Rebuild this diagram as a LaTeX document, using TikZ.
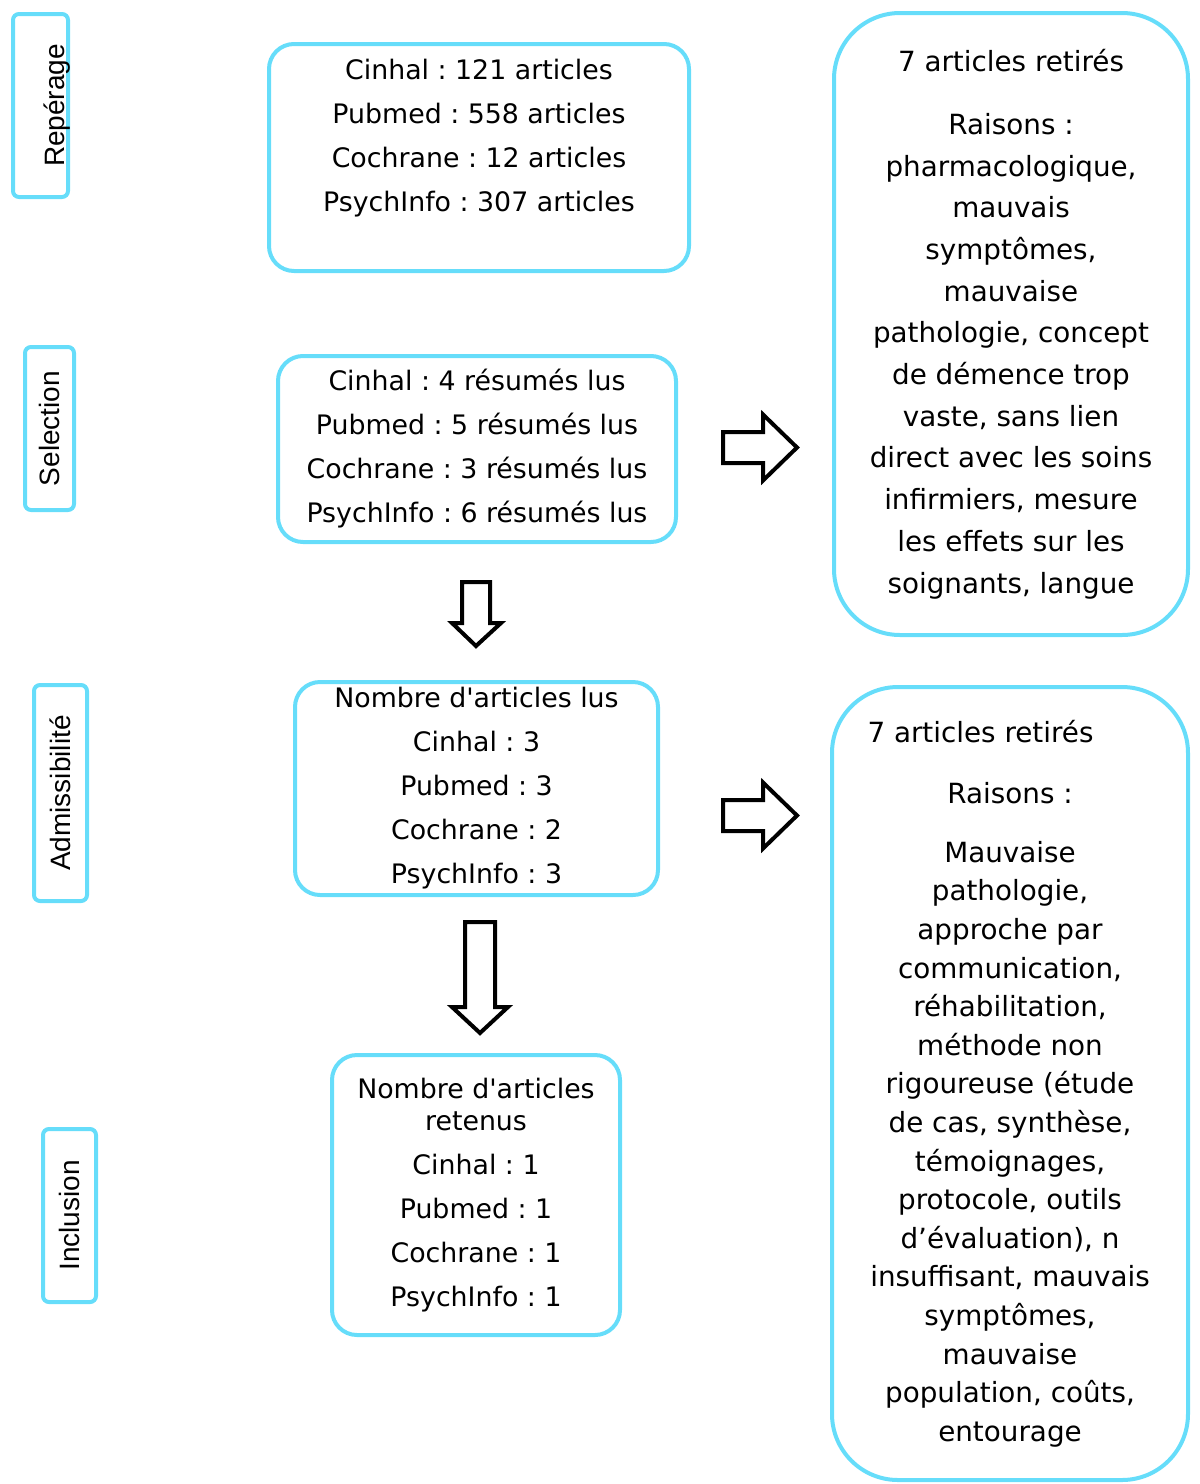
\documentclass[tikz,border=0pt]{standalone}
\usepackage{fontspec}
\setmainfont{DejaVu Sans}
\newfontfamily\sidefont{Liberation Sans}
\definecolor{boxcyan}{RGB}{102,221,250}
\frenchspacing

\begin{document}
\begin{tikzpicture}[x=0.5pt,y=-0.5pt,
	box/.style={draw=boxcyan, line width=2pt, rounded corners=12.5pt, align=center, inner sep=0pt,
		font=\fontsize{13.4}{22}\selectfont},
	bigbox/.style={box, rounded corners=33pt},
	sidebox/.style={draw=boxcyan, line width=2pt, rounded corners=3pt, rotate=90, inner sep=0pt,
		font=\sidefont\fontsize{14}{16}\selectfont},
	blockarrow/.style={draw=black, line width=2pt, fill=white}]
\useasboundingbox (0,0) rectangle (1200,1484);

\node[sidebox, minimum width=91.5pt, minimum height=27.5pt] (reperage) at (40.5,105.5)
	{\raisebox{-8.5pt}[\height][\depth]{Repérage}};
\node[sidebox, minimum width=81.5pt, minimum height=24.5pt] (selection) at (49.5,428.5) {Selection};
\node[sidebox, minimum width=108pt, minimum height=26.5pt] (admis) at (60.5,793) {Admissibilité};
\node[sidebox, minimum width=86.5pt, minimum height=26.5pt] (inclusion) at (69.5,1215.5) {Inclusion};

\node[box, minimum width=210pt, minimum height=113.5pt] (bases) at (479,157.5)
	{Cinhal : 121 articles\\ Pubmed : 558 articles\\ Cochrane : 12 articles\\ PsychInfo : 307 articles\\ \mbox{}};
\node[box, minimum width=199pt, minimum height=93pt] (resumes) at (477,449)
	{Cinhal : 4 résumés lus\\ Pubmed : 5 résumés lus\\ Cochrane : 3 résumés lus\\ PsychInfo : 6 résumés lus};
\node[box, minimum width=181.5pt, minimum height=106.5pt] (lus) at (476.5,788.5)
	{Nombre d\textquotesingle articles lus\\ Cinhal : 3\\ Pubmed : 3\\ Cochrane : 2\\ PsychInfo : 3};
\node[box, minimum width=144pt, minimum height=140pt, font=\fontsize{13.4}{16}\selectfont] (retenus) at (476,1195)
	{Nombre d\textquotesingle articles\\ retenus\\[6pt] Cinhal : 1\\[6pt] Pubmed : 1\\[6pt] Cochrane : 1\\[6pt] PsychInfo : 1};

\node[bigbox, minimum width=177pt, minimum height=311pt, font=\fontsize{13.9}{20.85}\selectfont] (retires1) at (1011,324)
	{7 articles retirés\\[10.65pt] Raisons :\\ pharmacologique,\\ mauvais\\ symptômes,\\ mauvaise\\
	pathologie, concept\\ de démence trop\\ vaste, sans lien\\ direct avec les soins\\
	infirmiers, mesure\\ les effets sur les\\ soignants, langue};
\node[bigbox, minimum width=178pt, minimum height=396.5pt, font=\fontsize{13.9}{19.3}\selectfont] (retires2) at (1010,1083.5)
	{7 articles retirés\hspace*{29.5pt}\\[11.2pt] Raisons :\\[10.2pt] Mauvaise\\ pathologie,\\ approche par\\
	communication,\\ réhabilitation,\\ méthode non\\ rigoureuse (étude\\ de cas, synthèse,\\ témoignages,\\
	protocole, outils\\ d’évaluation), n\\ insuffisant, mauvais\\ symptômes,\\ mauvaise\\
	population, coûts,\\ entourage};

\foreach \yc in {447.5,815.5}{
	\draw[blockarrow] (723,\yc-15.5) -- (763,\yc-15.5) -- (763,\yc-33) -- (797,\yc)
		-- (763,\yc+33) -- (763,\yc+15.5) -- (723,\yc+15.5) -- cycle;
	}
\draw[blockarrow] (462,582) -- (490,582) -- (490,623) -- (501,623) -- (476,646)
	-- (452,623) -- (462,623) -- cycle;
\draw[blockarrow] (465,922) -- (495,922) -- (495,1007) -- (508,1007) -- (480,1033)
	-- (452,1007) -- (465,1007) -- cycle;
\end{tikzpicture}
\end{document}
